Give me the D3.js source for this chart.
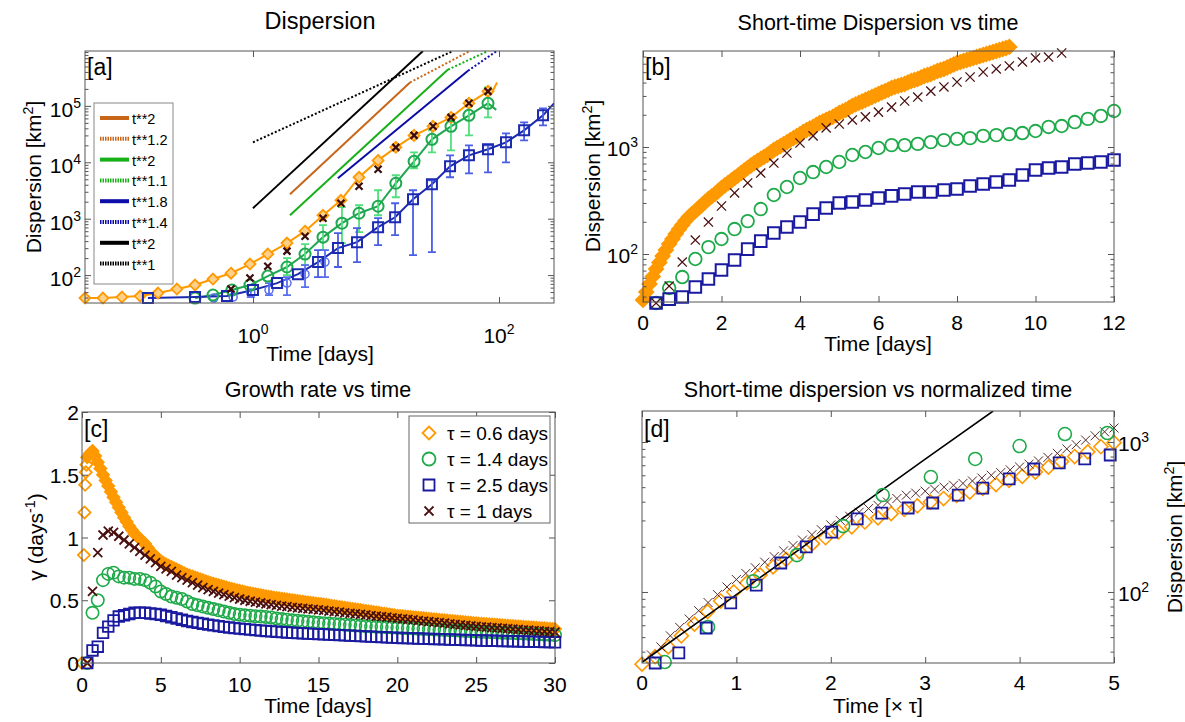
<!DOCTYPE html>
<html>
<head>
<meta charset="utf-8">
<script src="https://cdn.jsdelivr.net/npm/d3@7"></script>
<style>
  body { margin: 0; background: #fff; }
</style>
</head>
<body>
<script>
// ---------- panel a : dispersion, log-log ----------
const aOrangeT = [0.0431, 0.0603, 0.0861, 0.121, 0.169, 0.241, 0.338, 0.473, 0.663, 0.945, 1.32, 1.89, 2.65, 3.71, 5.19, 7.28, 10.4, 14.5, 20.4, 29.1, 40.7, 57.0, 81.4];
const aOrangeD = [39.2, 39.2, 40.8, 42.5, 48, 56.5, 66.6, 85, 108, 157, 236, 369, 601, 1150, 2120, 5430, 10800, 18400, 30000, 43400, 62500, 111000, 181000];
const aOrangeTailT = [87.7, 96.4];
const aOrangeTailD = [173000, 260000];

const aBlackT = [0.663, 0.945, 1.32, 1.89, 2.65, 3.71, 5.19, 7.28, 10.4, 14.5, 20.4, 29.1, 40.7, 57.0, 81.4];
const aBlackD = [56.5, 88.5, 144, 266, 490, 1020, 1880, 3760, 7520, 18400, 30000, 43400, 62500, 111000, 181000];

const aGreenT = [0.338, 0.473, 0.675, 0.945, 1.32, 1.89, 2.65, 3.71, 5.29, 7.28, 10.4, 14.5, 20.4, 28.5, 40.7, 57.0, 81.4];
const aGreenD = [39.2, 44.3, 54.3, 66.6, 96, 139, 236, 471, 832, 1250, 1660, 4250, 10400, 25500, 43400, 67900, 111000];
const aGreenLo = [null, null, null, null, null, 100, 150, 277, 368, 577, 1150, 2400, 7840, 15000, 16300, 30100, 62500];
const aGreenHi = [null, null, null, null, null, 200, 354, 767, 1600, 1730, 3190, 5890, 15000, 36800, 62500, 125000, 212000];
const aGreenTailT = [95];
const aGreenTailD = [85000];

const aBlueT = [0.14, 0.338, 0.615, 1.0, 1.57, 2.32, 3.38, 4.91, 7.01, 10.4, 14.3, 20.0, 28.5, 40.0, 57.0, 81.4, 114, 160, 228];
const aBlueD = [39.2, 40.8, 42.5, 54.3, 72.1, 104, 170, 301, 384, 708, 1060, 2210, 4080, 8490, 13300, 17000, 22600, 36800, 67900];
const aBlueLo = [null, null, null, null, null, null, 92, 139, 170, 340, 510, 226, 255, 5430, 6380, 6650, 10000, 24500, 45200];
const aBlueHi = [null, null, null, null, null, null, 277, 553, 679, 1020, 1880, 3190, 4800, 13300, 20000, 20000, 32600, 51000, 90400];
const aBlueTailT = [280];
const aBlueTailD = [111000];

const aLightT = [0.48, 0.69, 0.96, 1.35, 1.89, 2.65, 3.85];
const aLightD = [39.2, 40.8, 48, 54.3, 72.1, 104, 170];
const aLightLo = [null, null, 40.8, 44.3, 44.3, 61.4, 92];
const aLightHi = [null, null, 54.3, 72.1, 92, 150, 277];

// power-law guide lines: start/end in (days, km^2)
const aRefLabels = ["t**2", "t**1.2", "t**2", "t**1.1", "t**1.8", "t**1.4", "t**2", "t**1"];
const aRefT0 = [2.0, 18.9, 2.0, 38.5, 4.9, 56, 1, 1];
const aRefD0 = [2720, 260000, 1150, 440000, 5200, 420000, 1535, 22600];
const aRefT1 = [18.9, 58, 38.5, 81.4, 56, 96, 24.1, 42.3];
const aRefD1 = [260000, 940000, 440000, 940000, 420000, 940000, 940000, 940000];

// ---------- panel b : short-time dispersion ----------
const bOrangeStep = 1 / 12;
const bOrangeD = [37.2, 44.2, 52.5, 61.7, 72.4, 83.3, 95.8, 109, 124, 138,
  154, 170, 187, 204, 222, 237, 252, 269, 287, 306,
  327, 345, 364, 388, 414, 437, 461, 486, 513, 541,
  571, 603, 637, 672, 708, 740, 773, 807, 842, 889,
  938, 978, 1020, 1060, 1110, 1160, 1210, 1260, 1320, 1380,
  1440, 1490, 1540, 1610, 1680, 1730, 1790, 1850, 1910, 1990,
  2080, 2150, 2220, 2320, 2420, 2500, 2580, 2660, 2750, 2840,
  2930, 3030, 3130, 3230, 3330, 3440, 3560, 3640, 3720, 3800,
  3880, 4010, 4140, 4230, 4320, 4460, 4610, 4710, 4810, 4970,
  5130, 5240, 5360, 5530, 5710, 5900, 6090, 6220, 6360, 6500,
  6640, 6780, 6930, 7080, 7240, 7400, 7560, 7720, 7890, 8060,
  8240, 8420, 8610];
const bStep = 1 / 3;
const bGreenD = [34.8, 48.1, 60.9, 89.8, 116, 138, 171, 203, 263, 356, 423, 513, 583, 650, 724, 842, 898, 979, 1040, 1040,
  1070, 1110, 1160, 1190, 1210, 1270, 1290, 1320, 1350, 1410, 1540, 1570, 1710, 1830, 1950, 2170];
const bBlueD = [34.8, 37.9, 39.6, 49.2, 58.4, 70.8, 88, 111, 132, 157, 179, 199, 236, 269, 300, 306, 320, 334, 349, 364,
  380, 380, 396, 405, 432, 451, 471, 492, 547, 610, 637, 650, 693, 708, 724, 756];
const bBrownD = [34.8, 50.2, 84.1, 135, 199, 281, 372, 461, 571, 708, 879, 1090, 1270, 1510, 1640, 1790, 1910, 2120, 2360, 2690,
  2930, 3330, 3640, 4050, 4510, 5020, 5360, 5720, 6230, 6790, 6930, 7560];

// ---------- panel c : growth rate ----------
const cStep = 1 / 3;
const cOrangeEarlyT = [0, 0.12, 0.16, 0.2, 0.24, 0.28];
const cOrangeEarlyG = [0, 0.86, 1.2, 1.42, 1.52, 1.58];
const cOrangeStep = 1 / 6;
const cOrange = [1.64, 1.67, 1.69, 1.65, 1.60, 1.55, 1.50, 1.455, 1.41, 1.365,
  1.32, 1.28, 1.24, 1.20, 1.16, 1.125, 1.09, 1.06, 1.03, 1.01,
  0.99, 0.97, 0.95, 0.92, 0.89, 0.87, 0.85, 0.83, 0.81, 0.797,
  0.785, 0.775, 0.765, 0.755, 0.745, 0.735, 0.725, 0.715, 0.705, 0.697,
  0.69, 0.682, 0.675, 0.667, 0.66, 0.652, 0.645, 0.638, 0.632, 0.626,
  0.62, 0.614, 0.608, 0.602, 0.596, 0.59, 0.585, 0.58, 0.575, 0.57,
  0.565, 0.56, 0.556, 0.552, 0.548, 0.544, 0.54, 0.536, 0.532, 0.528,
  0.525, 0.521, 0.518, 0.515, 0.512, 0.509, 0.506, 0.503, 0.50, 0.497,
  0.494, 0.491, 0.488, 0.485, 0.482, 0.479, 0.477, 0.474, 0.472, 0.469,
  0.466, 0.463, 0.46, 0.456, 0.453, 0.45, 0.447, 0.444, 0.441, 0.437,
  0.434, 0.431, 0.428, 0.425, 0.422, 0.418, 0.415, 0.412, 0.409, 0.406,
  0.403, 0.4, 0.396, 0.393, 0.39, 0.387, 0.384, 0.38, 0.377, 0.375,
  0.373, 0.371, 0.369, 0.367, 0.365, 0.363, 0.361, 0.359, 0.357, 0.354,
  0.352, 0.35, 0.348, 0.346, 0.344, 0.342, 0.34, 0.338, 0.336, 0.334,
  0.332, 0.33, 0.328, 0.326, 0.324, 0.322, 0.32, 0.318, 0.316, 0.314,
  0.313, 0.311, 0.31, 0.308, 0.307, 0.305, 0.304, 0.302, 0.30, 0.298,
  0.297, 0.295, 0.294, 0.292, 0.291, 0.289, 0.288, 0.286, 0.285, 0.283,
  0.282, 0.28, 0.279, 0.277, 0.276, 0.274, 0.273, 0.271, 0.27];
const cGreen = [0, 0.40, 0.50, 0.66, 0.71, 0.72, 0.69, 0.68, 0.68, 0.67,
  0.67, 0.66, 0.64, 0.61, 0.57, 0.55, 0.53, 0.52, 0.51, 0.49,
  0.47, 0.46, 0.45, 0.44, 0.43, 0.42, 0.41, 0.40, 0.39, 0.385,
  0.38, 0.377, 0.373, 0.37, 0.367, 0.363, 0.355, 0.35, 0.345, 0.34,
  0.336, 0.332, 0.328, 0.324, 0.32, 0.317, 0.314, 0.311, 0.308, 0.305,
  0.302, 0.299, 0.296, 0.293, 0.29, 0.288, 0.286, 0.284, 0.282, 0.28,
  0.278, 0.276, 0.274, 0.272, 0.27, 0.268, 0.266, 0.264, 0.262, 0.26,
  0.258, 0.256, 0.254, 0.252, 0.25, 0.248, 0.246, 0.244, 0.242, 0.24,
  0.239, 0.238, 0.236, 0.234, 0.232, 0.23, 0.228, 0.226, 0.224, 0.222];
const cBlue = [0, 0.10, 0.13, 0.24, 0.29, 0.34, 0.37, 0.38, 0.39, 0.40,
  0.40, 0.40, 0.395, 0.39, 0.385, 0.375, 0.365, 0.355, 0.345, 0.335,
  0.327, 0.32, 0.313, 0.306, 0.30, 0.294, 0.288, 0.283, 0.278, 0.274,
  0.27, 0.266, 0.262, 0.258, 0.255, 0.252, 0.249, 0.246, 0.243, 0.241,
  0.238, 0.236, 0.234, 0.232, 0.23, 0.228, 0.226, 0.224, 0.222, 0.22,
  0.218, 0.216, 0.214, 0.212, 0.21, 0.208, 0.206, 0.204, 0.202, 0.20,
  0.199, 0.198, 0.196, 0.195, 0.194, 0.192, 0.191, 0.19, 0.188, 0.187,
  0.186, 0.184, 0.183, 0.182, 0.18, 0.179, 0.178, 0.177, 0.176, 0.175,
  0.174, 0.173, 0.172, 0.171, 0.17, 0.169, 0.168, 0.167, 0.166, 0.165];
const cBrown = [0, 0.57, 0.88, 1.02, 1.05, 1.04, 1.01, 0.98, 0.95, 0.92,
  0.89, 0.86, 0.83, 0.80, 0.77, 0.75, 0.73, 0.70, 0.68, 0.66,
  0.64, 0.62, 0.60, 0.585, 0.57, 0.557, 0.545, 0.533, 0.521, 0.51,
  0.50, 0.492, 0.485, 0.478, 0.471, 0.465, 0.459, 0.454, 0.449, 0.444,
  0.44, 0.436, 0.432, 0.428, 0.424, 0.419, 0.414, 0.41, 0.405, 0.40,
  0.396, 0.392, 0.387, 0.383, 0.378, 0.374, 0.369, 0.365, 0.36, 0.356,
  0.351, 0.347, 0.343, 0.338, 0.334, 0.33, 0.325, 0.321, 0.317, 0.312,
  0.308, 0.304, 0.299, 0.295, 0.291, 0.288, 0.285, 0.282, 0.279, 0.276,
  0.273, 0.27, 0.267, 0.264, 0.261, 0.258, 0.255, 0.252, 0.249, 0.246];
const cLegend = ["\u03c4 = 0.6 days", "\u03c4 = 1.4 days", "\u03c4 = 2.5 days", "\u03c4 = 1 days"];

// ---------- panel d : normalized time ----------
const dOrangeStep = 1 / 12 / 0.6;
const dOrangeD = [33, 37, 43, 51, 61, 74, 87, 100, 115, 130, 147, 165, 186, 210, 230, 252, 272, 293, 312, 333,
  355, 375, 398, 420, 440, 464, 490, 520, 555, 590, 630, 680, 740, 800, 860, 930, 990];
const dBrownStep = 0.1;
const dBrownD = [38, 43, 51, 58, 66, 75, 85, 96, 108, 121, 133, 145, 158, 172, 188, 204, 222, 241, 260, 280,
  300, 320, 340, 360, 378, 398, 420, 442, 456, 470, 485, 500, 515, 530, 550, 575, 600, 625, 652, 681,
  712, 748, 790, 840, 900, 960, 1030, 1100, 1170, 1240];
const dGreenT = [0.24, 0.7, 1.18, 1.64, 2.13, 2.55, 3.06, 3.53, 4.0, 4.48, 4.93];
const dGreenD = [34.1, 58.4, 118, 176, 275, 443, 584, 771, 940, 1130, 1148];
const dBlueT = [0.14, 0.39, 0.68, 0.94, 1.21, 1.47, 1.74, 2.01, 2.28, 2.54, 2.82, 3.08, 3.35, 3.61, 3.89, 4.15, 4.42, 4.69, 4.96];
const dBlueD = [33.6, 39.2, 57.5, 84.5, 111, 156, 200, 251, 307, 336, 363, 392, 443, 493, 567, 661, 725, 771, 819];
const dLineT = [0, 1, 2, 3, 3.72];
const dLineD = [34, 96, 272, 768, 1610];

// ---------- drawing ----------
const FONT = "'Liberation Sans', Arial, Helvetica, sans-serif";
const AXIS = "#555";
const ORANGE = "#ff9900", GREEN = "#1faa4a", BLUE = "#1a1aa0", BROWN = "#4a1010";
const REF = ["#c8661a", "#c8661a", "#18b018", "#18b018", "#0c0ca8", "#0c0ca8", "#000", "#000"];

const svg = d3.select("body").append("svg")
    .attr("width", 1185).attr("height", 722)
    .style("font-family", FONT);
svg.append("rect").attr("width", 1185).attr("height", 722).attr("fill", "#fff");

function shape(type, r) {
    if (type === "d") return `M0,${-r}L${r},0L0,${r}L${-r},0Z`;
    if (type === "s") return `M${-r},${-r}H${r}V${r}H${-r}Z`;
    if (type === "o") return `M${r},0A${r},${r} 0 1,1 ${-r},0A${r},${r} 0 1,1 ${r},0Z`;
    return `M${-r},${-r}L${r},${r}M${-r},${r}L${r},${-r}`;
}

function markers(g, xs, ys, x, y, type, r, color, width, fill) {
    g.append("g").selectAll("path")
        .data(d3.zip(xs, ys))
        .join("path")
        .attr("d", shape(type, r))
        .attr("transform", d => `translate(${x(d[0])},${y(d[1])})`)
        .attr("fill", fill || "none")
        .attr("stroke", color)
        .attr("stroke-width", width);
}

// sample times of an evenly sampled series
function stepped(n, step, start) {
    return d3.range(n).map(i => (start + i) * step);
}

function tickMarks(g, scale, orient, pos, values, size) {
    const mk = { bottom: d3.axisBottom, top: d3.axisTop, left: d3.axisLeft, right: d3.axisRight }[orient];
    const ax = mk(scale).tickValues(values).tickSize(-size).tickFormat("");
    const horiz = orient === "bottom" || orient === "top";
    const t = g.append("g")
        .attr("transform", horiz ? `translate(0,${pos})` : `translate(${pos},0)`)
        .call(ax);
    t.select(".domain").remove();
    t.selectAll("line").attr("stroke", AXIS);
}

function frame(g, x, y) {
    const [x0, x1] = x.range(), [y0, y1] = y.range();
    g.append("rect")
        .attr("x", x0).attr("y", y1)
        .attr("width", x1 - x0).attr("height", y0 - y1)
        .attr("fill", "none").attr("stroke", AXIS).attr("stroke-width", 1);
}

function logMinor(domain) {
    const out = [];
    const e0 = Math.floor(Math.log10(domain[0])), e1 = Math.ceil(Math.log10(domain[1]));
    for (let e = e0; e <= e1; e++)
        for (let k = 2; k <= 9; k++) {
            const v = k * Math.pow(10, e);
            if (v > domain[0] && v < domain[1]) out.push(v);
        }
    return out;
}

function text(g, x, y, str, size, anchor) {
    return g.append("text")
        .attr("x", x).attr("y", y)
        .attr("font-size", size)
        .attr("text-anchor", anchor || "middle")
        .attr("fill", "#000")
        .text(str);
}

function powLabel(g, x, y, exp, anchor) {
    const t = g.append("text")
        .attr("x", x).attr("y", y)
        .attr("font-size", 21)
        .attr("text-anchor", anchor)
        .attr("fill", "#000");
    t.append("tspan").text("10");
    t.append("tspan").attr("dy", -9).attr("font-size", 14).text(exp);
}

function unitLabel(g, x, y, pre, sup, post, size, rotate) {
    const t = g.append("text")
        .attr("transform", `translate(${x},${y})` + (rotate ? " rotate(-90)" : ""))
        .attr("font-size", size)
        .attr("text-anchor", "middle")
        .attr("fill", "#000");
    t.append("tspan").text(pre);
    t.append("tspan").attr("dy", -8).attr("font-size", size * 0.68).text(sup);
    t.append("tspan").attr("dy", 8).text(post);
}

function errorBars(g, xs, lo, hi, x, y, color, cap) {
    const d = [];
    xs.forEach((t, i) => {
        if (lo[i] == null) return;
        const px = x(t);
        d.push(`M${px},${y(lo[i])}V${y(hi[i])}M${px - cap},${y(lo[i])}H${px + cap}M${px - cap},${y(hi[i])}H${px + cap}`);
    });
    g.append("path").attr("d", d.join("")).attr("stroke", color).attr("stroke-width", 1.8).attr("fill", "none");
}

function clip(id, x, y) {
    const [x0, x1] = x.range(), [y0, y1] = y.range();
    svg.append("clipPath").attr("id", id).append("rect")
        .attr("x", x0).attr("y", y1).attr("width", x1 - x0).attr("height", y0 - y1);
}

// ===== panel a =====
const gA = svg.append("g");
const xA = d3.scaleLog().domain([0.0431, 280]).range([85, 554]);
const yA = d3.scaleLog().domain([32, 9.4e5]).range([303, 51]);
clip("clipA", xA, yA);
const aLine = d3.line().x(d => xA(d[0])).y(d => yA(d[1]));

const gAc = gA.append("g").attr("clip-path", "url(#clipA)");
aRefLabels.forEach((lab, i) => {
    gAc.append("path")
        .attr("d", aLine([[aRefT0[i], aRefD0[i]], [aRefT1[i], aRefD1[i]]]))
        .attr("stroke", REF[i]).attr("stroke-width", 2).attr("fill", "none")
        .attr("stroke-dasharray", i % 2 ? "2,2" : null);
});

errorBars(gA, aGreenT, aGreenLo, aGreenHi, xA, yA, "#4fe07c", 4);
errorBars(gA, aBlueT, aBlueLo, aBlueHi, xA, yA, "#4a5ee6", 4);
errorBars(gA, aLightT, aLightLo, aLightHi, xA, yA, "#5a6ef0", 4);

gAc.append("path").attr("d", aLine(d3.zip(aOrangeT.concat(aOrangeTailT), aOrangeD.concat(aOrangeTailD))))
    .attr("stroke", ORANGE).attr("stroke-width", 2).attr("fill", "none");
gAc.append("path").attr("d", aLine(d3.zip(aGreenT.concat(aGreenTailT), aGreenD.concat(aGreenTailD))))
    .attr("stroke", "#20a850").attr("stroke-width", 2).attr("fill", "none");
gAc.append("path").attr("d", aLine(d3.zip(aBlueT.concat(aBlueTailT), aBlueD.concat(aBlueTailD))))
    .attr("stroke", "#1c2ab0").attr("stroke-width", 2).attr("fill", "none");

markers(gA, aOrangeT, aOrangeD, xA, yA, "d", 5.5, ORANGE, 1.8, "#ffd08a");
markers(gA, aLightT, aLightD, xA, yA, "o", 4, "#5a6ef0", 1.5);
markers(gA, aGreenT, aGreenD, xA, yA, "o", 5.5, "#20a850", 2);
markers(gA, aBlueT, aBlueD, xA, yA, "s", 5, "#1c2ab0", 2);
markers(gA, aBlackT, aBlackD, xA, yA, "x", 3.5, "#3a0c0c", 2.2);

frame(gA, xA, yA);
tickMarks(gA, xA, "bottom", 303, [1, 100], 6);
tickMarks(gA, xA, "top", 51, [1, 100], 6);
tickMarks(gA, yA, "left", 85, [1e2, 1e3, 1e4, 1e5], 6);
tickMarks(gA, yA, "right", 554, [1e2, 1e3, 1e4, 1e5], 6);
tickMarks(gA, yA, "left", 85, logMinor(yA.domain()), 3.5);
tickMarks(gA, yA, "right", 554, logMinor(yA.domain()), 3.5);
[[1, "0"], [100, "2"]].forEach(([v, e]) => powLabel(gA, xA(v), 343, e, "middle"));
[[1e2, "2"], [1e3, "3"], [1e4, "4"], [1e5, "5"]].forEach(([v, e]) => powLabel(gA, 81, yA(v) + 11, e, "end"));
text(gA, 320, 29, "Dispersion", 23.5);
text(gA, 320, 361, "Time [days]", 21);
unitLabel(gA, 41, 177, "Dispersion [km", "2", "]", 21, true);
text(gA, 87, 75, "[a]", 23, "start");

// legend a
const gLeg = gA.append("g");
gLeg.append("rect").attr("x", 94).attr("y", 103).attr("width", 79).attr("height", 181)
    .attr("fill", "#fff").attr("stroke", "#888");
aRefLabels.forEach((lab, i) => {
    const yy = 118 + i * 20.8;
    gLeg.append("line").attr("x1", 100).attr("x2", 129).attr("y1", yy).attr("y2", yy)
        .attr("stroke", REF[i]).attr("stroke-width", 4)
        .attr("stroke-dasharray", i % 2 ? "1.5,1" : null);
    text(gLeg, 132, yy + 6, lab, 14.5, "start");
});

// ===== panel b =====
const gB = svg.append("g");
const xB = d3.scaleLinear().domain([0, 12]).range([643, 1114]);
const yB = d3.scaleLog().domain([35.6, 7890]).range([302, 51]);
markers(gB, stepped(bOrangeD.length, bOrangeStep, 0), bOrangeD, xB, yB, "d", 7, ORANGE, 2, ORANGE);
markers(gB, stepped(bGreenD.length, bStep, 1), bGreenD, xB, yB, "o", 6.3, GREEN, 1.8);
markers(gB, stepped(bBlueD.length, bStep, 1), bBlueD, xB, yB, "s", 5.8, BLUE, 2);
markers(gB, stepped(bBrownD.length, bStep, 1), bBrownD, xB, yB, "x", 4.6, BROWN, 1.3);
frame(gB, xB, yB);
tickMarks(gB, xB, "bottom", 302, d3.range(0, 13, 2), 6);
tickMarks(gB, xB, "top", 51, d3.range(0, 13, 2), 6);
tickMarks(gB, yB, "left", 643, [100, 1000], 6);
tickMarks(gB, yB, "right", 1114, [100, 1000], 6);
tickMarks(gB, yB, "left", 643, logMinor(yB.domain()), 3.5);
tickMarks(gB, yB, "right", 1114, logMinor(yB.domain()), 3.5);
d3.range(0, 13, 2).forEach(v => text(gB, xB(v), 330, String(v), 21));
[[100, "2"], [1000, "3"]].forEach(([v, e]) => powLabel(gB, 638, yB(v) + 9, e, "end"));
text(gB, 878, 30, "Short-time Dispersion vs time", 21.5);
text(gB, 878, 351, "Time [days]", 21);
unitLabel(gB, 600, 176, "Dispersion [km", "2", "]", 21, true);
text(gB, 645, 75, "[b]", 23, "start");

// ===== panel c =====
const gC = svg.append("g");
const xC = d3.scaleLinear().domain([0, 30]).range([82, 555]);
const yC = d3.scaleLinear().domain([0, 2]).range([663, 412]);
markers(gC, cOrangeEarlyT, cOrangeEarlyG, xC, yC, "d", 6, ORANGE, 1.8);
markers(gC, stepped(cOrange.length, cOrangeStep, 2), cOrange, xC, yC, "d", 6, ORANGE, 1.8, ORANGE);
markers(gC, stepped(cGreen.length, cStep, 1), cGreen, xC, yC, "o", 6.2, GREEN, 1.6);
markers(gC, stepped(cBlue.length, cStep, 1), cBlue, xC, yC, "s", 5.3, BLUE, 1.8);
markers(gC, stepped(cBrown.length, cStep, 1), cBrown, xC, yC, "x", 4.5, BROWN, 1.8);
frame(gC, xC, yC);
tickMarks(gC, xC, "bottom", 663, d3.range(0, 31, 5), 6);
tickMarks(gC, xC, "top", 412, d3.range(0, 31, 5), 6);
tickMarks(gC, yC, "left", 82, [0, 0.5, 1, 1.5, 2], 6);
tickMarks(gC, yC, "right", 555, [0, 0.5, 1, 1.5, 2], 6);
d3.range(0, 31, 5).forEach(v => text(gC, xC(v), 692, String(v), 21));
[0, 0.5, 1, 1.5, 2].forEach(v => text(gC, 79, yC(v) + 8, String(v), 21, "end"));
text(gC, 318, 397, "Growth rate vs time", 21.5);
text(gC, 318, 713, "Time [days]", 21);
unitLabel(gC, 43, 537, "\u03b3 (days", "-1", ")", 21, true);
text(gC, 84, 437, "[c]", 23, "start");

// legend c
const gLc = gC.append("g");
gLc.append("rect").attr("x", 409).attr("y", 416).attr("width", 141).attr("height", 107)
    .attr("fill", "#fff").attr("stroke", "#666");
const legShapes = [["d", 6.5, ORANGE, 1.8], ["o", 6.5, GREEN, 1.8], ["s", 5.5, BLUE, 1.8], ["x", 4.5, BROWN, 1.8]];
cLegend.forEach((lab, i) => {
    const yy = 433 + i * 26;
    const [tp, r, col, w] = legShapes[i];
    gLc.append("path").attr("d", shape(tp, r)).attr("transform", `translate(429,${yy})`)
        .attr("fill", "none").attr("stroke", col).attr("stroke-width", w);
    text(gLc, 447, yy + 7, lab, 19, "start");
});

// ===== panel d =====
const gD = svg.append("g");
const xD = d3.scaleLinear().domain([0, 5]).range([642, 1114]);
const yD = d3.scaleLog().domain([33.6, 1610]).range([663, 411]);
clip("clipD", xD, yD);
markers(gD, stepped(dOrangeD.length, dOrangeStep, 0), dOrangeD, xD, yD, "d", 7, ORANGE, 1.6);
markers(gD, stepped(dBrownD.length, dBrownStep, 1), dBrownD, xD, yD, "x", 4.5, "#5a2a2a", 1);
gD.append("path")
    .attr("clip-path", "url(#clipD)")
    .attr("d", d3.line().x(d => xD(d[0])).y(d => yD(d[1]))(d3.zip(dLineT, dLineD)))
    .attr("stroke", "#000").attr("stroke-width", 1.6).attr("fill", "none");
markers(gD, dGreenT, dGreenD, xD, yD, "o", 6.5, GREEN, 1.6);
markers(gD, dBlueT, dBlueD, xD, yD, "s", 5.5, BLUE, 1.8);
frame(gD, xD, yD);
tickMarks(gD, xD, "bottom", 663, d3.range(0, 6), 6);
tickMarks(gD, xD, "top", 411, d3.range(0, 6), 6);
tickMarks(gD, yD, "left", 642, [100, 1000], 6);
tickMarks(gD, yD, "right", 1114, [100, 1000], 6);
tickMarks(gD, yD, "left", 642, logMinor(yD.domain()), 3.5);
tickMarks(gD, yD, "right", 1114, logMinor(yD.domain()), 3.5);
d3.range(0, 6).forEach(v => text(gD, xD(v), 690, String(v), 21));
[[100, "2"], [1000, "3"]].forEach(([v, e]) => powLabel(gD, 1118, yD(v) + 9, e, "start"));
text(gD, 878, 397, "Short-time dispersion vs normalized time", 21.5);
text(gD, 878, 713, "Time [\u00d7 \u03c4]", 21);
unitLabel(gD, 1182, 537, "Dispersion [km", "2", "]", 21, true);
text(gD, 644, 437, "[d]", 23, "start");
</script>
</body>
</html>
